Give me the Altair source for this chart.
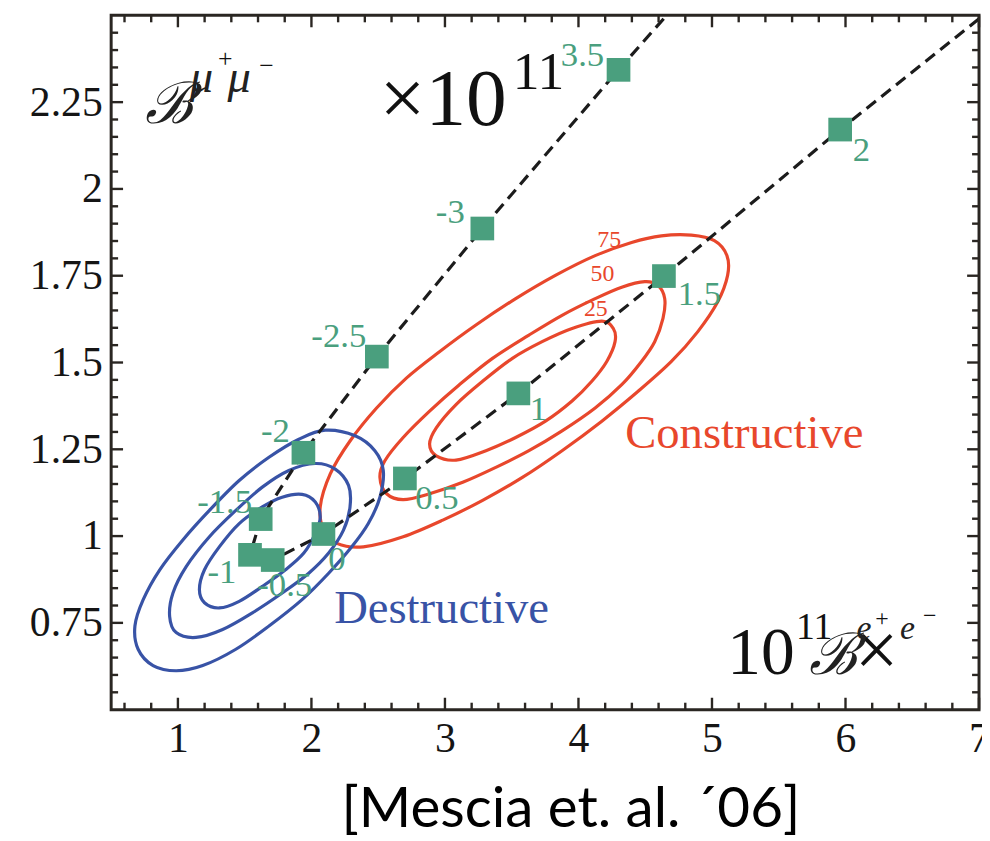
import altair as alt
import pandas as pd

W, H = 875, 700
SERIF = "Liberation Serif"
GREEN = "#4a9f7e"
RED = "#e8472c"
RED_TXT = "#e25a4b"
BLUE = "#3853a6"
BLUE_TXT = "#3b59a8"
FRAME = "#2a2622"

# ---------------- data ----------------
x_tick_values = [1, 2, 3, 4, 5, 6, 7]
y_tick_values = [0.75, 1, 1.25, 1.5, 1.75, 2, 2.25]
x_minor = [round(v / 10, 1) for v in range(6, 70, 2) if v % 10 != 0]
y_minor = [round(v / 100, 2) for v in range(55, 250, 5) if v % 25 != 0]

# squares along the curve (parameter labels)
param_labels = ["2", "1.5", "1", "0.5", "0", "-0.5", "-1", "-1.5", "-2", "-2.5", "-3", "3.5"]
pt_x = [5.96, 4.64, 3.55, 2.70, 2.09, 1.71, 1.54, 1.62, 1.94, 2.49, 3.28, 4.30]
pt_y = [2.171, 1.749, 1.411, 1.166, 1.006, 0.931, 0.946, 1.049, 1.240, 1.517, 1.886, 2.343]
lab_x = [6.12, 4.906, 3.70, 2.94, 2.19, 1.80, 1.33, 1.35, 1.73, 2.205, 3.04, 4.03]
lab_y = [2.111, 1.697, 1.366, 1.109, 0.934, 0.860, 0.897, 1.097, 1.303, 1.577, 1.934, 2.386]

# dashed curve: the squares plus the two ends where it leaves the frame
line_x = [7.0] + pt_x + [4.66]
line_y = [2.49] + pt_y + [2.50]

# contours
red75_x = [4.845, 5.018, 5.112, 5.117, 5.042, 4.894, 4.696, 4.447, 4.175, 3.877, 3.580, 3.282, 2.984, 2.687,
           2.389, 2.190, 2.092, 2.066, 2.141, 2.289, 2.488, 2.711, 2.959, 3.232, 3.530, 3.827, 4.125, 4.398, 4.621]
red75_y = [1.867, 1.851, 1.808, 1.751, 1.674, 1.589, 1.503, 1.417, 1.331, 1.246, 1.169, 1.103, 1.046, 0.998,
           0.969, 0.979, 1.017, 1.084, 1.179, 1.274, 1.369, 1.455, 1.531, 1.608, 1.684, 1.751, 1.808, 1.846, 1.865]
red50_x = [4.497, 4.596, 4.646, 4.633, 4.571, 4.472, 4.324, 4.125, 3.877, 3.629, 3.381, 3.133, 2.885, 2.687,
           2.563, 2.513, 2.550, 2.687, 2.885, 3.108, 3.356, 3.629, 3.877, 4.125, 4.324]
red50_y = [1.733, 1.722, 1.684, 1.627, 1.560, 1.503, 1.436, 1.369, 1.303, 1.246, 1.198, 1.155, 1.122, 1.105,
           1.122, 1.169, 1.217, 1.284, 1.360, 1.436, 1.512, 1.579, 1.636, 1.684, 1.717]
red25_x = [4.175, 4.261, 4.274, 4.212, 4.100, 3.952, 3.753, 3.530, 3.307, 3.083, 2.935, 2.885, 2.935, 3.083,
           3.282, 3.505, 3.728, 3.952]
red25_y = [1.619, 1.598, 1.560, 1.503, 1.446, 1.389, 1.331, 1.284, 1.246, 1.219, 1.231, 1.265, 1.312, 1.379,
           1.446, 1.512, 1.560, 1.598]
blue_out_x = [2.103, 2.327, 2.475, 2.538, 2.513, 2.426, 2.302, 2.129, 1.930, 1.682, 1.434, 1.186, 0.987, 0.814,
              0.702, 0.678, 0.740, 0.864, 1.037, 1.236, 1.459, 1.682, 1.906]
blue_out_y = [1.305, 1.289, 1.246, 1.189, 1.112, 1.036, 0.969, 0.893, 0.817, 0.741, 0.674, 0.627, 0.612, 0.627,
              0.674, 0.741, 0.817, 0.903, 0.989, 1.074, 1.160, 1.227, 1.279]
blue_mid_x = [2.029, 2.178, 2.278, 2.289, 2.240, 2.129, 1.980, 1.781, 1.558, 1.335, 1.136, 0.987, 0.938, 0.963,
              1.062, 1.236, 1.434, 1.632, 1.831]
blue_mid_y = [1.209, 1.193, 1.146, 1.084, 1.017, 0.951, 0.893, 0.836, 0.779, 0.731, 0.708, 0.722, 0.769, 0.836,
              0.912, 0.998, 1.074, 1.141, 1.189]
blue_in_x = [1.930, 2.029, 2.066, 2.029, 1.943, 1.806, 1.632, 1.459, 1.310, 1.199, 1.161, 1.199, 1.310, 1.459,
             1.632, 1.781]
blue_in_y = [1.120, 1.098, 1.055, 1.008, 0.951, 0.903, 0.855, 0.812, 0.793, 0.808, 0.846, 0.903, 0.969, 1.036,
             1.084, 1.112]

contour_labels = ["75", "50", "25"]
contour_lab_x = [4.23, 4.18, 4.13]
contour_lab_y = [1.854, 1.754, 1.654]

# ---------------- tables ----------------
rows = []
for ring, grp, xs_, ys_ in [
    ("r75", "red", red75_x, red75_y), ("r50", "red", red50_x, red50_y), ("r25", "red", red25_x, red25_y),
    ("b3", "blue", blue_out_x, blue_out_y), ("b2", "blue", blue_mid_x, blue_mid_y), ("b1", "blue", blue_in_x, blue_in_y),
]:
    for i, (a, b) in enumerate(zip(xs_, ys_)):
        rows.append({"x": a, "y": b, "ring": ring, "grp": grp, "o": i})
contours = pd.DataFrame(rows)
dline = pd.DataFrame({"x": line_x, "y": line_y, "o": list(range(len(line_x)))})
squares = pd.DataFrame({"x": pt_x, "y": pt_y})
sq_labels = pd.DataFrame({"x": lab_x, "y": lab_y, "t": param_labels})
c_labels = pd.DataFrame({"x": contour_lab_x, "y": contour_lab_y, "t": contour_labels})

xs = alt.Scale(domain=[0.5, 7], nice=False, zero=False)
ys = alt.Scale(domain=[0.5, 2.5], nice=False, zero=False)
xaxis = alt.Axis(values=x_tick_values, labelExpr="toString(datum.value)", ticks=False, domain=False, grid=False,
                 labelFont=SERIF, labelFontSize=42, labelColor="#151515", labelPadding=9,
                 labelFlush=False, labelOverlap=False,
                 title="[Mescia et. al. \u00b406]", titleFont="Lato", titleFontSize=57,
                 titleFontWeight="normal", titleColor="#000000", titleX=463, titleY=118,
                 titleBaseline="alphabetic", titleAlign="center")
yaxis = alt.Axis(values=y_tick_values, labelExpr="toString(datum.value)", ticks=False, domain=False, grid=False,
                 labelFont=SERIF, labelFontSize=42, labelColor="#151515", labelPadding=9,
                 labelFlush=False, labelOverlap=False, title=None)


def X():
    return alt.X("x:Q", scale=xs, axis=xaxis)


def Y():
    return alt.Y("y:Q", scale=ys, axis=yaxis)


contour_layer = alt.Chart(contours).mark_line(interpolate="cardinal-closed", strokeWidth=3.2).encode(
    x=X(), y=Y(), detail="ring:N", order="o:Q",
    color=alt.Color("grp:N", scale=alt.Scale(domain=["red", "blue"], range=[RED, BLUE]), legend=None),
)
line_layer = alt.Chart(dline).mark_line(color="#1c1c1c", strokeWidth=3.2, strokeDash=[12, 7], clip=True).encode(
    x=X(), y=Y(), order="o:Q"
)
square_layer = alt.Chart(squares).mark_square(size=570, color=GREEN, opacity=1).encode(x=X(), y=Y())
sq_label_layer = alt.Chart(sq_labels).mark_text(font=SERIF, fontSize=35, color=GREEN, align="center",
                                                baseline="middle").encode(x=X(), y=Y(), text="t:N")
c_label_layer = alt.Chart(c_labels).mark_text(font=SERIF, fontSize=24, color=RED, align="center",
                                              baseline="middle").encode(x=X(), y=Y(), text="t:N")

names = pd.DataFrame({"x": [4.35, 2.17], "y": [1.254, 0.751], "t": ["Constructive", "Destructive"],
                      "c": ["c", "d"]})
names_layer = alt.Chart(names).mark_text(font=SERIF, fontSize=47, align="left", baseline="alphabetic").encode(
    x=X(), y=Y(), text="t:N",
    color=alt.Color("c:N", scale=alt.Scale(domain=["c", "d"], range=[RED_TXT, BLUE_TXT]), legend=None),
)

# math annotations: upright pieces
m_up = pd.DataFrame({
    "x": [2.51, 3.507, 5.115, 5.63, 6.07, 1.300, 1.610, 6.223, 6.580],
    "y": [2.183, 2.289, 0.603, 0.703, 0.597, 2.351, 2.331, 0.740, 0.751],
    "t": ["\u00d710", "11", "10", "11", "\u00d7", "+", "\u2212", "+", "\u2212"],
    "s": [82, 54, 68, 38, 78, 26, 26, 24, 24],
})
# italic pieces
m_it = pd.DataFrame({
    "x": [1.089, 1.372, 6.082, 6.409],
    "y": [2.280, 2.280, 0.703, 0.703],
    "t": ["\u03bc", "\u03bc", "e", "e"],
    "s": [47, 47, 34, 34],
})
m_b = pd.DataFrame({"x": [0.754, 5.725], "y": [2.189, 0.603], "t": ["\u212c", "\u212c"], "s": [58, 58]})

up_layer = alt.Chart(m_up).mark_text(font=SERIF, color="#111111", align="left", baseline="alphabetic").encode(
    x=X(), y=Y(), text="t:N", size=alt.Size("s:Q", scale=None))
it_layer = alt.Chart(m_it).mark_text(font=SERIF, fontStyle="italic", color="#222222", align="left",
                                     baseline="alphabetic").encode(
    x=X(), y=Y(), text="t:N", size=alt.Size("s:Q", scale=None))
b_layer = alt.Chart(m_b).mark_text(font="DejaVu Serif", fontStyle="italic", color="#222222", align="left",
                                   baseline="alphabetic").encode(
    x=X(), y=Y(), text="t:N", size=alt.Size("s:Q", scale=None))

# inward ticks on all four sides
MAJ, MIN = 12, 7
xmaj = pd.DataFrame({"x": x_tick_values})
xmin = pd.DataFrame({"x": x_minor})
ymaj = pd.DataFrame({"y": y_tick_values})
ymin = pd.DataFrame({"y": y_minor})
tk = dict(color=FRAME, strokeWidth=2.4)
tick_layers = [
    alt.Chart(xmaj).mark_rule(**tk).encode(x=X(), y=alt.value(H), y2=alt.value(H - MAJ)),
    alt.Chart(xmin).mark_rule(**tk).encode(x=X(), y=alt.value(H), y2=alt.value(H - MIN)),
    alt.Chart(xmaj).mark_rule(**tk).encode(x=X(), y=alt.value(0), y2=alt.value(MAJ)),
    alt.Chart(xmin).mark_rule(**tk).encode(x=X(), y=alt.value(0), y2=alt.value(MIN)),
    alt.Chart(ymaj).mark_rule(**tk).encode(y=Y(), x=alt.value(0), x2=alt.value(MAJ)),
    alt.Chart(ymin).mark_rule(**tk).encode(y=Y(), x=alt.value(0), x2=alt.value(MIN)),
    alt.Chart(ymaj).mark_rule(**tk).encode(y=Y(), x=alt.value(W), x2=alt.value(W - MAJ)),
    alt.Chart(ymin).mark_rule(**tk).encode(y=Y(), x=alt.value(W), x2=alt.value(W - MIN)),
]

chart = alt.layer(
    contour_layer, line_layer, square_layer, sq_label_layer, c_label_layer, names_layer,
    up_layer, it_layer, b_layer, *tick_layers
).properties(
    width=W, height=H,
    autosize=alt.AutoSizeParams(type="none"),
    padding={"left": 104, "top": 4, "right": 3, "bottom": 129},
).configure_view(stroke=FRAME, strokeWidth=3)

chart.save("out.html", embed_options={"renderer": "svg", "actions": False})
